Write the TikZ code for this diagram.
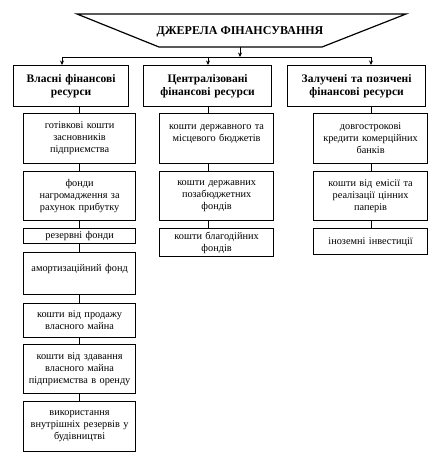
\documentclass[tikz,border=0pt]{standalone}
\usepackage{fontspec}
\setmainfont{Liberation Serif}
\usetikzlibrary{arrows.meta}
\begin{document}
\begin{tikzpicture}[x=1pt,y=-1pt,
  box/.style={draw,line width=1.2pt,anchor=north west,align=center,inner sep=1pt,
    font=\fontsize{10.3}{12}\selectfont},
  head/.style={box,font=\bfseries\fontsize{11.5}{13.5}\selectfont},
  conn/.style={line width=0.8pt},
  arr/.style={line width=0.8pt,-{Stealth[length=4.5pt,width=4pt]}}]
\useasboundingbox (0,0) rectangle (440,461);
% title
\coordinate (t1) at (77,14);
\coordinate (t2) at (406,14);
\coordinate (t3) at (322,47);
\coordinate (t4) at (159,47);
\draw[line width=1.2pt] (t1) -- (t2) -- (t3) -- (t4) -- cycle;
\node[font=\bfseries\fontsize{12}{14}\selectfont] (title) at (240,32) {ДЖЕРЕЛА ФІНАНСУВАННЯ};
\coordinate (tb) at (240,47);
\coordinate (bm) at (240,57);
\coordinate (bl) at (62,57);
\coordinate (br) at (371,57);
\coordinate (b2) at (208,57);
\draw[arr] (tb) -- (bm);
\draw[conn] (bl) -- (br);
% headings
\node[head,minimum width=115pt,minimum height=41pt,text width=110pt] (h1) at (13,65) {Власні фінансові\\ресурси};
\node[head,minimum width=128pt,minimum height=41pt,text width=123pt] (h2) at (143,65) {Централізовані\\фінансові ресурси};
\node[head,minimum width=138pt,minimum height=41pt,text width=133pt] (h3) at (287,65) {Залучені та позичені\\фінансові ресурси};
\draw[arr] (bl) -- (bl |- h1.north);
\draw[arr] (b2) -- (b2 |- h2.north);
\draw[arr] (br) -- (br |- h3.north);
% column 1
\node[box,minimum width=112pt,minimum height=50pt,text width=108pt] (a1) at (23,113) {готівкові кошти\\засновників\\підприємства};
\node[box,minimum width=112pt,minimum height=49pt,text width=108pt] (a2) at (23,171) {фонди\\нагромадження за\\рахунок прибутку};
\node[box,minimum width=112pt,minimum height=15pt,text width=108pt] (a3) at (23,228) {резервні фонди};
\node[box,minimum width=112pt,minimum height=42pt,text width=108pt] (a4) at (23,252) {амортизаційний фонд\\\mbox{}};
\node[box,minimum width=112pt,minimum height=34pt,text width=108pt] (a5) at (23,303) {кошти від продажу\\власного майна};
\node[box,minimum width=112pt,minimum height=49pt,text width=110pt] (a6) at (23,344) {кошти від здавання\\власного майна\\підприємства в оренду};
\node[box,minimum width=112pt,minimum height=50pt,text width=108pt] (a7) at (23,401) {використання\\внутрішніх резервів у\\будівництві};
\coordinate (x1) at (79,0);
\draw[conn] (h1.south -| x1) -- (a1.north -| x1);
\draw[conn] (a1.south -| x1) -- (a2.north -| x1);
\draw[conn] (a2.south -| x1) -- (a3.north -| x1);
\draw[conn] (a3.south -| x1) -- (a4.north -| x1);
\draw[conn] (a4.south -| x1) -- (a5.north -| x1);
\draw[conn] (a5.south -| x1) -- (a6.north -| x1);
\draw[conn] (a6.south -| x1) -- (a7.north -| x1);
% column 2
\node[box,minimum width=114pt,minimum height=50pt,text width=110pt] (c21) at (159,113) {кошти державного та\\місцевого бюджетів\\\mbox{}};
\node[box,minimum width=114pt,minimum height=49pt,text width=110pt] (c22) at (159,171) {кошти державних\\позабюджетних\\фондів};
\node[box,minimum width=114pt,minimum height=28pt,text width=110pt] (c23) at (159,228) {кошти благодійних\\фондів};
\coordinate (x2) at (208,0);
\draw[conn] (h2.south -| x2) -- (c21.north -| x2);
\draw[conn] (c21.south -| x2) -- (c22.north -| x2);
\draw[conn] (c22.south -| x2) -- (c23.north -| x2);
% column 3
\node[box,minimum width=114pt,minimum height=50pt,text width=110pt] (c31) at (313,113) {довгострокові\\кредити комерційних\\банків};
\node[box,minimum width=114pt,minimum height=49pt,text width=110pt] (c32) at (313,171) {кошти від емісії та\\реалізації цінних\\паперів};
\node[box,minimum width=114pt,minimum height=26pt,text width=110pt] (c33) at (313,228) {іноземні інвестиції};
\coordinate (x3) at (371,0);
\draw[conn] (h3.south -| x3) -- (c31.north -| x3);
\draw[conn] (c31.south -| x3) -- (c32.north -| x3);
\draw[conn] (c32.south -| x3) -- (c33.north -| x3);
\end{tikzpicture}
\end{document}
